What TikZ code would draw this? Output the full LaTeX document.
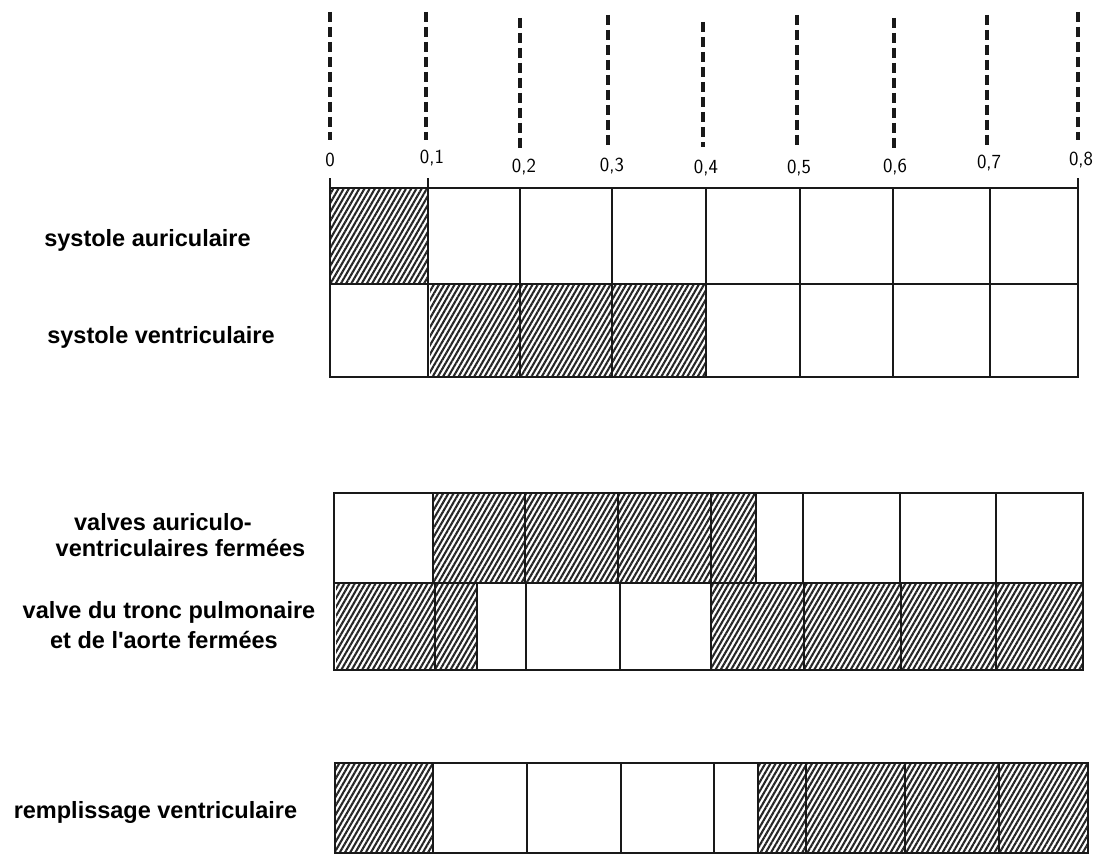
\documentclass[tikz,border=0pt]{standalone}
\usepackage{fontspec}
\newfontfamily\labfont{Liberation Sans}
\usetikzlibrary{patterns.meta}
\tikzset{
 hatch/.style={pattern={Lines[angle=60,distance=4.5pt,line width=2.1pt]},pattern color=black!85},
 gridline/.style={line width=2.3pt,black!90},
 guide/.style={line width=3.2pt,black!90,dash pattern=on 10pt off 5pt},
 rowlabel/.style={font=\labfont\bfseries\fontsize{23.5}{27}\selectfont,inner sep=0pt,text=black},
 ticklabel/.style={font=\sffamily\fontsize{20}{24}\selectfont,inner sep=0pt}
}
\begin{document}
\begin{tikzpicture}[x=1pt,y=-1pt]
\useasboundingbox (0,0) rectangle (1105,856);
% dashed guides
\foreach \x/\a/\b in {330/12/140,426/12/140,520/18/150,608/15/145,703/22/147,797/15/145,894/18/150,987/15/145,1078/12/140}
  \draw[guide] (\x,\a) -- (\x,\b);
% tick labels
\foreach \x/\y/\t [count=\i] in {330/160/0,432/158/{0,1},524/167/{0,2},612/166/{0,3},706/168/{0,4},799/168/{0,5},895/167/{0,6},989/163/{0,7},1081/160/{0,8}}
  \node[ticklabel] (t\i) at (\x,\y) {\t};
% ---- box 1
\fill[hatch] (330,188) rectangle (428,284);
\fill[hatch] (430,284) rectangle (706,377);
\draw[gridline] (330,188) rectangle (1078,377);
\draw[gridline] (330,284) -- (1078,284);
\foreach \x in {330,428,1078} \draw[gridline] (\x,178) -- (\x,188);
\foreach \x in {428,520,612,706,800,893,990} \draw[gridline] (\x,188) -- (\x,377);
% ---- box 2
\fill[hatch] (433,493) rectangle (756,583);
\fill[hatch] (336,583) rectangle (477,670);
\fill[hatch] (711,583) rectangle (1083,670);
\draw[gridline] (334,493) rectangle (1083,670);
\draw[gridline] (334,583) -- (1083,583);
\foreach \x in {433,525,618,711,756,803,900,996} \draw[gridline] (\x,493) -- (\x,583);
\foreach \x in {435,477,526,620,711,804,901,996} \draw[gridline] (\x,583) -- (\x,670);
% ---- box 3
\fill[hatch] (335,763) rectangle (433,853);
\fill[hatch] (758,763) rectangle (1088,853);
\draw[gridline] (335,763) rectangle (1088,853);
\foreach \x in {433,527,621,714,758,806,905,999} \draw[gridline] (\x,763) -- (\x,853);
% ---- row labels
\node[rowlabel] (sa) at (147.5,240) {systole auriculaire};
\node[rowlabel] (sv) at (161,337) {systole ventriculaire};
\node[rowlabel] (va1) at (163,522) {valves auriculo-};
\node[rowlabel] (va2) at (180.5,548) {ventriculaires fermées};
\node[rowlabel] (vt1) at (169,612) {valve du tronc pulmonaire};
\node[rowlabel] (vt2) at (164,640) {et de l'aorte fermées};
\node[rowlabel] (rv) at (155.5,812) {remplissage ventriculaire};
\end{tikzpicture}
\end{document}
